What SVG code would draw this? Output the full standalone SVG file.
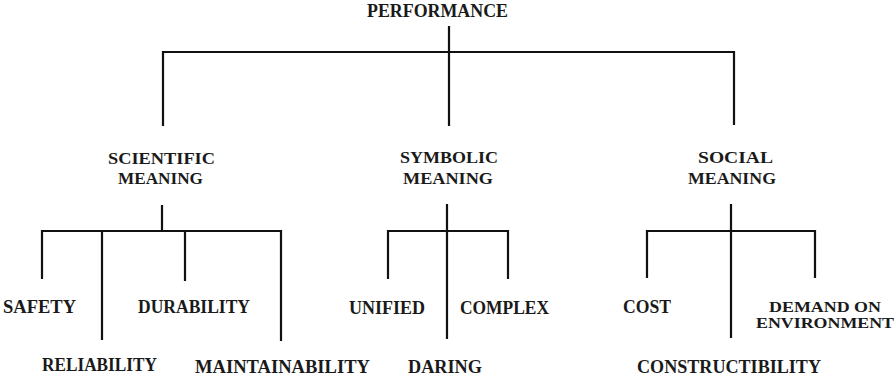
<svg xmlns="http://www.w3.org/2000/svg" width="894" height="377" viewBox="0 0 894 377">
<style>
text{font-family:"Liberation Serif","Times New Roman",serif;font-size:18px;font-weight:bold;fill:#1a1a1a;}
.s{font-size:17px;}
.t{font-size:15.5px;}
.c{stroke:#111;stroke-width:2.2;fill:none;stroke-linecap:square;}
</style>
<rect width="894" height="377" fill="#fff"/>
<g id="connectors">
<path class="c" d="M449 27V125M163 125V52H734V124"/>
<path class="c" d="M162 206V231M42 278V231H281V340M102 231V339M185 231V280"/>
<path class="c" d="M447 205V338M388 278V231H508V278"/>
<path class="c" d="M731 205V337M647 277V231H815V277"/>
</g>
<g id="performance"><text x="367" y="17" textLength="141" lengthAdjust="spacingAndGlyphs">PERFORMANCE</text></g>
<g id="scientific"><text class="s" x="108" y="164" textLength="107" lengthAdjust="spacingAndGlyphs">SCIENTIFIC</text><text class="s" x="118" y="184" textLength="85" lengthAdjust="spacingAndGlyphs">MEANING</text></g>
<g id="symbolic"><text class="s" x="400" y="163" textLength="98" lengthAdjust="spacingAndGlyphs">SYMBOLIC</text><text class="s" x="403" y="184" textLength="90" lengthAdjust="spacingAndGlyphs">MEANING</text></g>
<g id="social"><text class="s" x="698" y="163" textLength="75" lengthAdjust="spacingAndGlyphs">SOCIAL</text><text class="s" x="688" y="184" textLength="88" lengthAdjust="spacingAndGlyphs">MEANING</text></g>
<g id="safety"><text x="3" y="313" textLength="73" lengthAdjust="spacingAndGlyphs">SAFETY</text></g>
<g id="durability"><text x="138" y="313" textLength="112" lengthAdjust="spacingAndGlyphs">DURABILITY</text></g>
<g id="reliability"><text x="42" y="371" textLength="115" lengthAdjust="spacingAndGlyphs">RELIABILITY</text></g>
<g id="maintainability"><text x="195" y="373" textLength="175" lengthAdjust="spacingAndGlyphs">MAINTAINABILITY</text></g>
<g id="unified"><text x="349" y="314" textLength="76" lengthAdjust="spacingAndGlyphs">UNIFIED</text></g>
<g id="complex"><text x="460" y="314" textLength="89" lengthAdjust="spacingAndGlyphs">COMPLEX</text></g>
<g id="daring"><text x="408" y="373" textLength="74" lengthAdjust="spacingAndGlyphs">DARING</text></g>
<g id="cost"><text x="623" y="313" textLength="48" lengthAdjust="spacingAndGlyphs">COST</text></g>
<g id="demand"><text class="t" x="769" y="312" textLength="112" lengthAdjust="spacingAndGlyphs">DEMAND ON</text><text class="t" x="756" y="328" textLength="138" lengthAdjust="spacingAndGlyphs">ENVIRONMENT</text></g>
<g id="constructibility"><text x="637" y="373" textLength="184" lengthAdjust="spacingAndGlyphs">CONSTRUCTIBILITY</text></g>
</svg>
